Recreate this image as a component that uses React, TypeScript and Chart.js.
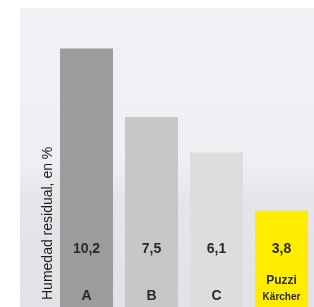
import React, { useEffect, useRef } from "react";
import { Chart, registerables } from "chart.js";

Chart.register(...registerables);

const categories = ["A", "B", "C", "Puzzi"];
const subLabels = ["", "", "", "Kärcher"];
const values = [10.2, 7.5, 6.1, 3.8];
const valueLabels = ["10,2", "7,5", "6,1", "3,8"];
const barColors = ["#9c9c9c", "#c6c7c6", "#dcdddc", "#ffec00"];
const yTitle = "Humedad residual, en %";

const FONT = "'Liberation Sans', Arial, Helvetica, sans-serif";

const panelPlugin = {
  id: "panel",
  beforeDraw(chart: any) {
    const { ctx, chartArea, height, width } = chart;
    const x0 = 20;
    const y0 = chartArea.top;
    const g = ctx.createLinearGradient(0, y0, 0, height);
    g.addColorStop(0, "#f1f0f5");
    g.addColorStop(0.5, "#f0eff4");
    g.addColorStop(0.65, "#e5e5e9");
    g.addColorStop(1, "#e3e3e7");
    ctx.save();
    ctx.fillStyle = "#ffffff";
    ctx.fillRect(0, 0, width, height);
    ctx.fillStyle = g;
    ctx.fillRect(x0, y0, width - x0, height - y0);
    ctx.restore();
  },
  afterDraw(chart: any) {
    const { ctx, chartArea } = chart;
    const xs = chart.scales.x;
    const bottom = chartArea.bottom;
    ctx.save();
    ctx.textAlign = "center";
    ctx.textBaseline = "middle";
    categories.forEach((c, i) => {
      const x = xs.getPixelForValue(i);
      ctx.fillStyle = "#2a2a2a";
      ctx.font = `bold 14px ${FONT}`;
      ctx.fillText(valueLabels[i], x, bottom - 58);
      if (subLabels[i]) {
        ctx.font = `bold 12px ${FONT}`;
        ctx.fillText(c, x, bottom - 26);
        ctx.font = `bold 10px ${FONT}`;
        ctx.fillText(subLabels[i], x, bottom - 10);
      } else {
        ctx.font = `bold 14px ${FONT}`;
        ctx.fillText(c, x, bottom - 11);
      }
    });
    // y axis title
    ctx.translate(48, bottom - 7);
    ctx.rotate(-Math.PI / 2);
    ctx.textAlign = "left";
    ctx.font = `14px ${FONT}`;
    ctx.fillStyle = "#1e1e1e";
    ctx.fillText(yTitle, 0, 0);
    ctx.restore();
  },
};

export default function App() {
  const ref = useRef<HTMLCanvasElement>(null);
  useEffect(() => {
    if (!ref.current) return;
    const chart = new Chart(ref.current, {
      type: "bar",
      data: {
        labels: categories,
        datasets: [
          {
            data: values,
            backgroundColor: barColors,
            borderWidth: 0,
            categoryPercentage: 1,
            barPercentage: 0.815,
          },
        ],
      },
      options: {
        responsive: false,
        animation: false,
        layout: { padding: { top: 8, left: 54, right: 0, bottom: 0 } },
        plugins: {
          legend: { display: false },
          tooltip: { enabled: false },
          title: { display: false },
        },
        scales: {
          x: { display: false },
          y: { display: false, min: 0, max: 11.8 },
        },
      },
      plugins: [panelPlugin],
    });
    return () => chart.destroy();
  }, []);
  return (
    <div style={{ position: "fixed", left: 0, top: 0, width: 314, height: 307, background: "#fff" }}>
      <canvas ref={ref} width={314} height={307} style={{ display: "block" }} />
    </div>
  );
}
